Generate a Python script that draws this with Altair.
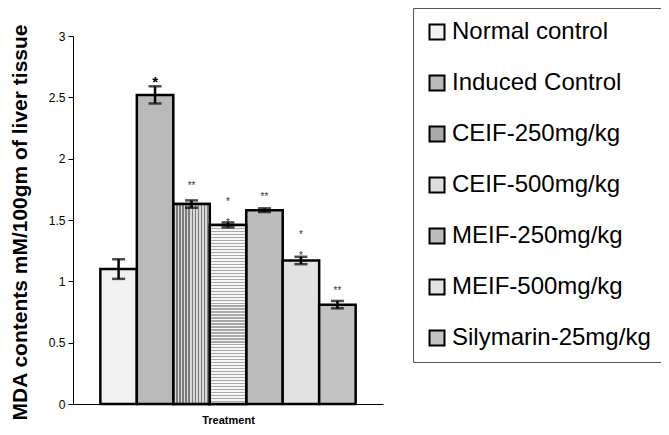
import altair as alt
import pandas as pd

# ---- data ----
groups = ["Normal control", "Induced Control", "CEIF-250mg/kg", "CEIF-500mg/kg",
          "MEIF-250mg/kg", "MEIF-500mg/kg", "Silymarin-25mg/kg"]
mda = [1.10, 2.52, 1.63, 1.46, 1.58, 1.17, 0.81]
sem = [0.08, 0.07, 0.03, 0.02, 0.015, 0.03, 0.03]

# significance marks (group, label, height in data units)
star_groups = ["Induced Control", "CEIF-250mg/kg", "CEIF-500mg/kg", "CEIF-500mg/kg",
               "MEIF-250mg/kg", "MEIF-500mg/kg", "MEIF-500mg/kg", "Silymarin-25mg/kg"]
star_labels = ["*", "**", "*", "*", "**", "*", "*", "**"]
star_heights = [2.66, 1.80, 1.67, 1.50, 1.71, 1.40, 1.23, 0.945]
star_big = [True, False, False, False, False, False, False, False]

y_ticks = [0, 0.5, 1, 1.5, 2, 2.5, 3]

fills = ["#f1f1f1", "#b9b9b9", "#a9a9a9", "#dedede", "#bcbcbc", "#e2e2e2", "#c3c3c3"]

df = pd.DataFrame({"group": groups, "mda": mda, "sem": sem})
df["lo"] = df["mda"] - df["sem"]
df["hi"] = df["mda"] + df["sem"]

stars = pd.DataFrame({"group": star_groups, "label": star_labels,
                      "h": star_heights, "big": star_big})

FONT = "Liberation Sans"

xscale = alt.Scale(domain=groups, paddingInner=0, paddingOuter=0.75)
yscale = alt.Scale(domain=[0, 3], nice=False)

x_enc = alt.X("group:N", scale=xscale, sort=groups,
              axis=alt.Axis(title="Treatment", labels=False, ticks=False,
                            domainColor="black", domainWidth=1,
                            titleFont=FONT, titleFontSize=11, titleFontWeight="bold",
                            titleColor="black", titleY=16, titleBaseline="middle"))

base = alt.Chart(df)

bars = base.mark_bar(stroke="black", strokeWidth=2.5).encode(
    x=x_enc,
    y=alt.Y("mda:Q", scale=yscale,
            axis=alt.Axis(title="MDA contents mM/100gm of liver tissue",
                          values=y_ticks, format="~g", grid=False,
                          domainColor="black", tickColor="black", tickSize=5,
                          labelFont=FONT, labelFontSize=12, labelColor="black",
                          labelPadding=3,
                          titleFont=FONT, titleFontSize=21, titleFontWeight="bold",
                          titleColor="black", titleAngle=270,
                          titleX=-53, titleY=186, titleBaseline="middle",
                          titleAlign="center")),
    color=alt.Color("group:N", sort=groups,
                    scale=alt.Scale(domain=groups, range=fills),
                    legend=alt.Legend(title=None, orient="none",
                                      legendX=340, legendY=-28,
                                      symbolType="square", symbolSize=225,
                                      symbolStrokeColor="black", symbolStrokeWidth=2,
                                      labelFont=FONT, labelFontSize=24,
                                      labelColor="black", labelOffset=3,
                                      labelLimit=400,
                                      rowPadding=27, padding=12,
                                      strokeColor="#555",
                                      fillColor="white")),
)

# striped patterns for the two CEIF bars
v_stops = []
n = 12
for i in range(n):
    a = i / n
    b = (i + 0.45) / n
    c = (i + 1) / n
    v_stops += [alt.GradientStop(offset=a, color="#7d7d7d"),
                alt.GradientStop(offset=b, color="#7d7d7d"),
                alt.GradientStop(offset=b, color="#d8d8d8"),
                alt.GradientStop(offset=c, color="#d8d8d8")]
h_stops = []
m = 60
for i in range(m):
    a = i / m
    b = (i + 0.4) / m
    c = (i + 1) / m
    h_stops += [alt.GradientStop(offset=a, color="#a9a9a9"),
                alt.GradientStop(offset=b, color="#a9a9a9"),
                alt.GradientStop(offset=b, color="#f6f6f6"),
                alt.GradientStop(offset=c, color="#f6f6f6")]

vbar = base.transform_filter(alt.datum.group == groups[2]).mark_bar(
    stroke="black", strokeWidth=2.5,
    fill=alt.LinearGradient(gradient="linear", x1=0, x2=1, y1=0, y2=0, stops=v_stops)
).encode(x=alt.X("group:N", scale=xscale, sort=groups), y=alt.Y("mda:Q", scale=yscale))

hbar = base.transform_filter(alt.datum.group == groups[3]).mark_bar(
    stroke="black", strokeWidth=2.5,
    fill=alt.LinearGradient(gradient="linear", x1=0, x2=0, y1=0, y2=1, stops=h_stops)
).encode(x=alt.X("group:N", scale=xscale, sort=groups), y=alt.Y("mda:Q", scale=yscale))

err = base.mark_rule(color="black", strokeWidth=2.5).encode(
    x=alt.X("group:N", scale=xscale, sort=groups),
    y=alt.Y("lo:Q", scale=yscale), y2="hi:Q")

cap_lo = base.mark_tick(color="black", thickness=2.5, size=13).encode(
    x=alt.X("group:N", scale=xscale, sort=groups), y=alt.Y("lo:Q", scale=yscale))
cap_hi = base.mark_tick(color="black", thickness=2.5, size=13).encode(
    x=alt.X("group:N", scale=xscale, sort=groups), y=alt.Y("hi:Q", scale=yscale))

star_small = alt.Chart(stars).transform_filter(~alt.datum.big).mark_text(
    font=FONT, fontSize=10, fill="#333333", baseline="middle", dy=3
).encode(x=alt.X("group:N", scale=xscale, sort=groups),
         y=alt.Y("h:Q", scale=yscale), text="label:N")

star_large = alt.Chart(stars).transform_filter(alt.datum.big).mark_text(
    font=FONT, fontSize=15, fontWeight="bold", fill="black", baseline="middle", dy=4
).encode(x=alt.X("group:N", scale=xscale, sort=groups),
         y=alt.Y("h:Q", scale=yscale), text="label:N")

chart = alt.layer(bars, vbar, hbar, err, cap_lo, cap_hi, star_small, star_large).properties(
    width=310, height=368,
    background="white",
    autosize=alt.AutoSizeParams(type="none"),
    padding={"left": 65, "top": 28, "right": 278, "bottom": 23},
).configure_view(strokeWidth=0, stroke="transparent")

chart.save("out.html", embed_options={"renderer": "svg", "actions": False})
